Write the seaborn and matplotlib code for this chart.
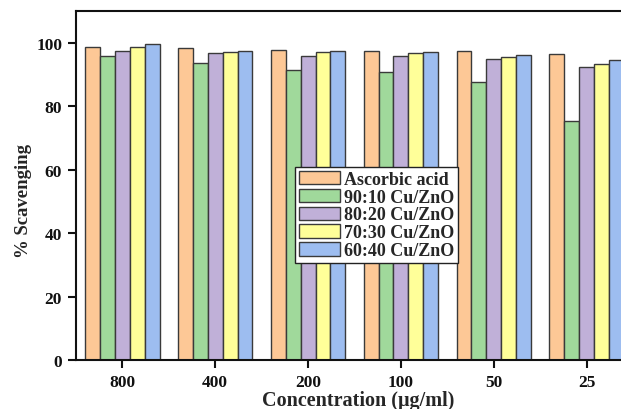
import matplotlib
matplotlib.use("Agg")
import matplotlib.pyplot as plt
import seaborn as sns
import pandas as pd

# Concentrations (µg/ml) and % scavenging per sample
concentrations = ["800", "400", "200", "100", "50", "25"]
samples = ["Ascorbic acid", "90:10 Cu/ZnO", "80:20 Cu/ZnO", "70:30 Cu/ZnO", "60:40 Cu/ZnO"]
ascorbic = [98.5, 98.2, 97.8, 97.5, 97.3, 96.5]
cu_zno_90_10 = [95.7, 93.5, 91.4, 90.9, 87.7, 75.3]
cu_zno_80_20 = [97.5, 96.8, 95.7, 95.7, 94.9, 92.5]
cu_zno_70_30 = [98.8, 97.1, 97.1, 96.8, 95.5, 93.2]
cu_zno_60_40 = [99.7, 97.3, 97.3, 97.0, 96.1, 94.6]
colors = ["#FDC896", "#A0D99B", "#C0B0D8", "#FFFF99", "#9DBDF0"]

series = [ascorbic, cu_zno_90_10, cu_zno_80_20, cu_zno_70_30, cu_zno_60_40]
rows = []
for name, vals in zip(samples, series):
    for c, v in zip(concentrations, vals):
        rows.append({"Concentration": c, "Scavenging": v, "Sample": name})
df = pd.DataFrame(rows)

sns.set_style("ticks")
plt.rcParams["font.family"] = ["Liberation Serif", "DejaVu Serif"]
plt.rcParams["font.weight"] = "bold"

fig = plt.figure(figsize=(6.21, 4.10), dpi=100)
ax = fig.add_axes([76 / 621, 1 - 361 / 410, (633 - 76) / 621, (361 - 12) / 410])

sns.barplot(data=df, x="Concentration", y="Scavenging", hue="Sample",
            order=concentrations, hue_order=samples, palette=colors,
            saturation=1, width=0.8, edgecolor="#3a3a3a", linewidth=1.0, ax=ax)

ax.set_xlim(-0.5, 5.5)
ax.set_ylim(0, 110)
ax.set_yticks([0, 20, 40, 60, 80, 100])
for s in ax.spines.values():
    s.set_linewidth(1.5)
    s.set_color("#111111")
ax.tick_params(axis="both", direction="out", length=6, width=1.5,
               labelsize=12.5, colors="#111111", pad=4)
for lab in ax.get_xticklabels() + ax.get_yticklabels():
    lab.set_fontweight("bold")

ax.set_xlabel("Concentration (μg/ml)", fontsize=14.5, fontweight="bold")
ax.xaxis.label.set_va("baseline")
ax.xaxis.set_label_coords(0.506, -0.13)
ax.set_ylabel("% Scavenging", fontsize=13.5, fontweight="bold")
ax.yaxis.label.set_va("center")
ax.yaxis.set_label_coords(-0.095, 0.458)

leg = ax.legend(loc="upper left", bbox_to_anchor=(0.393, 0.553), borderaxespad=0,
                fancybox=False, frameon=True, edgecolor="#222222", framealpha=1,
                handlelength=2.3, handleheight=0.75, handletextpad=0.2,
                labelspacing=0.05, borderpad=0.2,
                prop={"family": "Liberation Serif", "weight": "bold", "size": 13})
leg.get_frame().set_linewidth(1.0)

fig.savefig("out.png", dpi=100)
